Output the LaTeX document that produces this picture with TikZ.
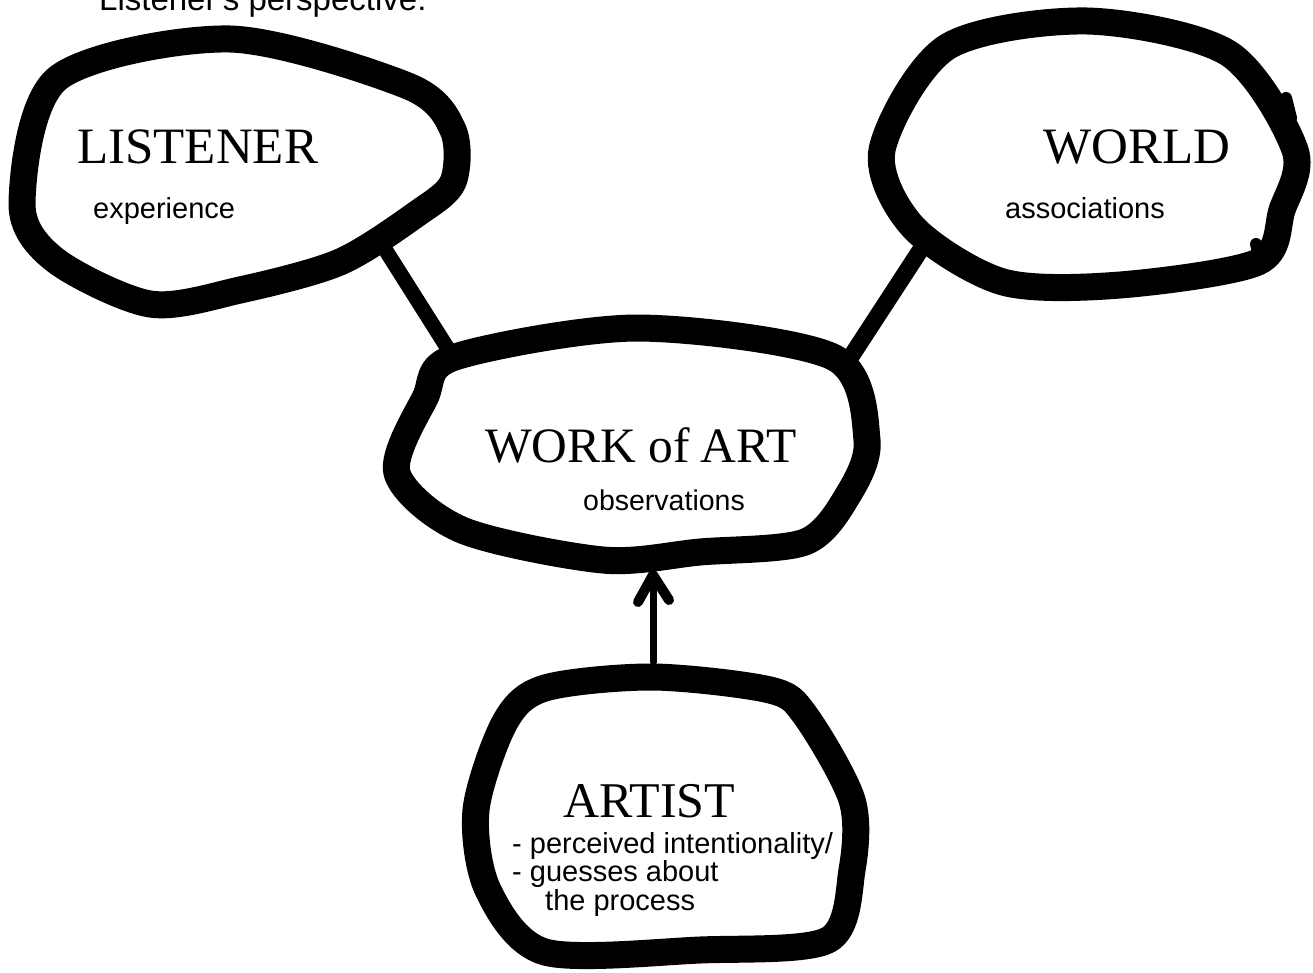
\documentclass[tikz,border=0pt]{standalone}
\usepackage{fontspec}
\setmainfont{Liberation Serif}
\newfontfamily\arialf{Liberation Sans}
\tikzset{
  blob/.style={line width=27pt, line join=round, line cap=round},
  knob/.style={line width=12pt, line cap=round},
  link/.style={line width=15pt, line cap=round},
  arm/.style={line width=10pt, line cap=round, line join=round},
  title/.style={font=\fontsize{51}{51}\selectfont, inner sep=0pt, anchor=base west},
  sub/.style={font=\arialf\fontsize{29}{28.5}\selectfont, inner sep=0pt, anchor=base west, align=left},
}
\begin{document}
\begin{tikzpicture}[x=1pt,y=-1pt]
\useasboundingbox[fill=white] (0,0) rectangle (1313,972);

% caption (cut off at the top)
\node[sub, font=\arialf\fontsize{33}{33}\selectfont] (cap) at (99,10) {Listener's perspective:};

% LISTENER blob
\draw[blob] plot[smooth cycle, tension=0.5] coordinates {
  (22,203) (58,78) (230,39) (408,86) (453,130) (453,182) (418,213)
  (340,262) (240,290) (150,304) (55,260)};
\draw[knob] (455,128) -- (458,150);
% WORLD blob
\draw[blob] plot[smooth cycle, tension=0.5] coordinates {
  (882,150) (947,47) (1087,21) (1228,53) (1295,150) (1282,210)
  (1258,262) (1120,285) (1003,282) (913,227)};
\draw[knob] (1286,98) -- (1291,118);
\draw[knob] (1256,244) -- (1260,260);
% WORK OF ART blob
\draw[blob] plot[smooth cycle, tension=0.5] coordinates {
  (397,473) (425,398) (455,357) (637,328) (833,357) (867,440)
  (848,495) (805,542) (700,552) (603,560) (462,530)};
\draw[knob] (840,362) -- (852,378);
% ARTIST blob
\draw[blob] plot[smooth cycle, tension=0.5] coordinates {
  (476,810) (505,722) (545,688) (653,677) (770,690) (805,715)
  (852,800) (852,870) (828,940) (700,950) (545,952) (488,890)};
\draw[knob] (792,700) -- (802,710);

% attachment points
\coordinate (listener-se) at (383,246);
\coordinate (world-sw) at (925,243);
\coordinate (work-nw) at (450,352);
\coordinate (work-ne) at (852,355);
\coordinate (work-s) at (653,575);
\coordinate (artist-n) at (653,662);

% connectors
\draw[link] (listener-se) -- (work-nw);
\draw[link, line width=17pt] (world-sw) -- (work-ne);
\draw[line width=7pt, line cap=round] (artist-n) -- (work-s);
\draw[arm] (work-s) +(-15,27) -- (work-s) -- +(16,25);

% texts
\node[title] (listener) at (77,163) {LISTENER};
\node[sub] (experience) at (93,218) {experience};
\node[title] (world) at (1043,163) {WORLD};
\node[sub] (associations) at (1005,218) {associations};
\node[title, font=\fontsize{49.5}{49.5}\selectfont] (work) at (485,462) {WORK of\kern-2pt\ ART};
\node[sub, font=\arialf\fontsize{28.5}{28.5}\selectfont] (observations) at (583,510) {observations};
\node[title, font=\fontsize{50}{50}\selectfont] (artist) at (563,817) {ARTIST};
\node[sub] (artistnotes) at (512,910) {- perceived intentionality/\\- guesses about\\\hspace*{33pt}the process};
\end{tikzpicture}
\end{document}
